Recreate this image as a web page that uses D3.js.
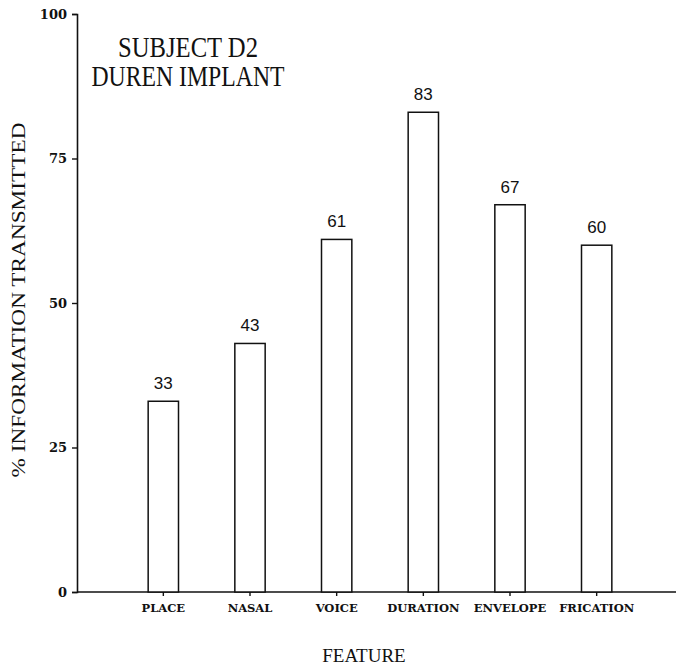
<!DOCTYPE html>
<html>
<head>
<meta charset="utf-8">
<script src="https://cdn.jsdelivr.net/npm/d3@7"></script>
<style>
  html, body { margin: 0; padding: 0; background: #fff; }
  svg { display: block; }
</style>
</head>
<body>
<svg id="chart" width="676" height="671"></svg>
<script>
// Feature transmission scores for subject D2
const features = ["PLACE", "NASAL", "VOICE", "DURATION", "ENVELOPE", "FRICATION"];
const percentTransmitted = [33, 43, 61, 83, 67, 60];
const yTicks = [0, 25, 50, 75, 100];
const titleLines = ["SUBJECT D2", "DUREN IMPLANT"];

const svg = d3.select("#chart");
const ink = "#111";

const x = d3.scaleBand().domain(features).range([120, 640]).padding(0);
const y = d3.scaleLinear().domain([0, 100]).range([592, 14]);
const axisLeftX = 77;
const barW = x.bandwidth() * 0.35;

// Y axis
const yAxis = d3.axisLeft(y).tickValues(yTicks).tickSize(5).tickPadding(5);
const gy = svg.append("g").attr("transform", `translate(${axisLeftX},0)`).call(yAxis);
gy.select(".domain").attr("stroke", ink).attr("stroke-width", 1.6);
gy.selectAll(".tick line").attr("stroke", ink).attr("stroke-width", 1.4);
gy.selectAll(".tick text")
  .attr("fill", ink)
  .style("font-family", "'DejaVu Serif', serif")
  .style("font-weight", "bold")
  .style("font-size", "13px");

// X axis baseline with small ticks below each category
const xAxis = d3.axisBottom(x).tickSize(4).tickPadding(8).tickSizeOuter(0);
const gx = svg.append("g").attr("transform", `translate(0,${y(0)})`).call(xAxis);
gx.select(".domain").attr("d", `M${axisLeftX},0H676`).attr("stroke", ink).attr("stroke-width", 1.6);
gx.selectAll(".tick line").attr("stroke", ink).attr("stroke-width", 1.4);
gx.selectAll(".tick text")
  .attr("fill", ink)
  .style("font-family", "'DejaVu Serif', serif")
  .style("font-weight", "bold")
  .style("font-size", "11.5px");

// Bars
svg.append("g").selectAll("rect")
  .data(features)
  .join("rect")
  .attr("x", (d) => x(d) + x.bandwidth() / 2 - barW / 2)
  .attr("y", (d, i) => y(percentTransmitted[i]))
  .attr("width", barW)
  .attr("height", (d, i) => y(0) - y(percentTransmitted[i]))
  .attr("fill", "#fff")
  .attr("stroke", ink)
  .attr("stroke-width", 1.5);

// Value labels above bars
svg.append("g").selectAll("text")
  .data(features)
  .join("text")
  .attr("x", (d) => x(d) + x.bandwidth() / 2)
  .attr("y", (d, i) => y(percentTransmitted[i]) - 12)
  .attr("text-anchor", "middle")
  .attr("fill", ink)
  .style("font-family", "'Liberation Sans', Arial, sans-serif")
  .style("font-size", "17px")
  .text((d, i) => percentTransmitted[i]);

// Title block
svg.append("g").selectAll("text")
  .data(titleLines)
  .join("text")
  .attr("x", 188)
  .attr("y", (d, i) => 57 + i * 29)
  .attr("text-anchor", "middle")
  .attr("fill", ink)
  .attr("textLength", (d, i) => (i === 0 ? 140 : 193))
  .attr("lengthAdjust", "spacingAndGlyphs")
  .style("font-family", "'Liberation Serif', 'Times New Roman', serif")
  .style("font-size", "29px")
  .text((d) => d);

// Axis titles
svg.append("text")
  .attr("transform", "translate(25,300) rotate(-90)")
  .attr("text-anchor", "middle")
  .attr("fill", ink)
  .attr("textLength", 355)
  .attr("lengthAdjust", "spacingAndGlyphs")
  .style("font-family", "'Liberation Serif', 'Times New Roman', serif")
  .style("font-size", "19px")
  .text("% INFORMATION TRANSMITTED");

svg.append("text")
  .attr("x", 364)
  .attr("y", 662)
  .attr("text-anchor", "middle")
  .attr("fill", ink)
  .style("font-family", "'Liberation Serif', 'Times New Roman', serif")
  .style("font-size", "19px")
  .text("FEATURE");
</script>
</body>
</html>
